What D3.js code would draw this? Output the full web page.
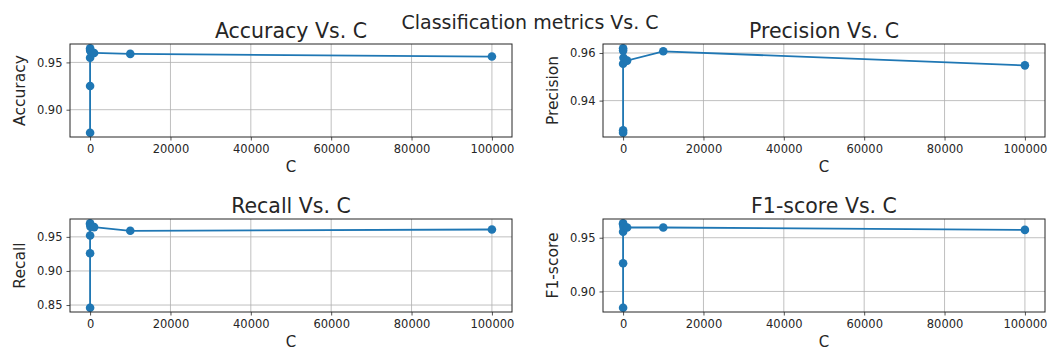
<!DOCTYPE html>
<html>
<head>
<meta charset="utf-8">
<script src="https://cdn.jsdelivr.net/npm/d3@7"></script>
<style>
  body { margin: 0; background: #fff; }
  svg { font-family: "DejaVu Sans", sans-serif; }
</style>
</head>
<body>
<svg width="1051" height="351"></svg>
<script>
const svg = d3.select("svg");

// C values tried
const cValues = [0.001, 0.01, 0.1, 1, 10, 100, 1000, 10000, 100000];

const accuracy  = [0.8756, 0.925, 0.955, 0.963, 0.965, 0.962, 0.960, 0.959, 0.9562];
const precision = [0.9265, 0.9275, 0.9555, 0.962, 0.961, 0.958, 0.9568, 0.9607, 0.9548];
const recall    = [0.846, 0.926, 0.952, 0.970, 0.968, 0.965, 0.9643, 0.9589, 0.9608];
const f1score   = [0.8848, 0.9263, 0.9555, 0.9635, 0.9625, 0.960, 0.9595, 0.9595, 0.9573];

const xTicks = [0, 20000, 40000, 60000, 80000, 100000];
const yTicksAcc = [0.90, 0.95];
const yTicksPrec = [0.94, 0.96];
const yTicksRec = [0.85, 0.90, 0.95];
const yTicksF1 = [0.90, 0.95];

const panels = [
  { name: "Accuracy", values: accuracy, ticks: yTicksAcc, col: 0, row: 0 },
  { name: "Precision", values: precision, ticks: yTicksPrec, col: 1, row: 0 },
  { name: "Recall", values: recall, ticks: yTicksRec, col: 0, row: 1 },
  { name: "F1-score", values: f1score, ticks: yTicksF1, col: 1, row: 1 }
];

const lefts = [70, 603];
const tops = [44, 219];
const w = 442, h = 93;
const blue = "#1f77b4";

// matplotlib style 5% margins
const pad = ([a, b]) => { const m = (b - a) * 0.05; return [a - m, b + m]; };

svg.append("text")
  .attr("x", 530).attr("y", 28.5)
  .attr("text-anchor", "middle")
  .attr("font-size", 19)
  .attr("fill", "#262626")
  .text("Classification metrics Vs. C");

panels.forEach(p => {
  const g = svg.append("g")
    .attr("transform", `translate(${lefts[p.col]},${tops[p.row]})`);

  const x = d3.scaleLinear().domain(pad(d3.extent(cValues))).range([0, w]);
  const y = d3.scaleLinear().domain(pad(d3.extent(p.values))).range([h, 0]);

  // grid
  g.append("g").selectAll("line").data(xTicks).join("line")
    .attr("x1", d => x(d)).attr("x2", d => x(d))
    .attr("y1", 0).attr("y2", h)
    .attr("stroke", "#b0b0b0").attr("stroke-width", 0.8);
  g.append("g").selectAll("line").data(p.ticks).join("line")
    .attr("y1", d => y(d)).attr("y2", d => y(d))
    .attr("x1", 0).attr("x2", w)
    .attr("stroke", "#b0b0b0").attr("stroke-width", 0.8);

  const xAxis = g.append("g")
    .attr("transform", `translate(0,${h})`)
    .call(d3.axisBottom(x).tickValues(xTicks).tickFormat(d3.format("d")).tickSize(3.5).tickPadding(4));
  const yAxis = g.append("g")
    .call(d3.axisLeft(y).tickValues(p.ticks).tickFormat(d3.format(".2f")).tickSize(3.5).tickPadding(4));

  [xAxis, yAxis].forEach(a => {
    a.select(".domain").remove();
    a.selectAll("text").attr("font-size", 11.5).attr("fill", "#262626")
      .attr("font-family", "DejaVu Sans");
    a.selectAll("line").attr("stroke", "#262626").attr("stroke-width", 0.8);
  });

  const pts = cValues.map((c, i) => [c, p.values[i]]);

  g.append("path")
    .datum(pts)
    .attr("fill", "none")
    .attr("stroke", blue)
    .attr("stroke-width", 1.8)
    .attr("d", d3.line().x(d => x(d[0])).y(d => y(d[1])));

  g.selectAll("circle.pt").data(pts).join("circle")
    .attr("class", "pt")
    .attr("cx", d => x(d[0])).attr("cy", d => y(d[1]))
    .attr("r", 4.3).attr("fill", blue);

  // frame
  g.append("rect")
    .attr("width", w).attr("height", h)
    .attr("fill", "none").attr("stroke", "#262626").attr("stroke-width", 1);

  g.append("text")
    .attr("x", w / 2).attr("y", -6.5)
    .attr("text-anchor", "middle")
    .attr("font-size", 20.5).attr("fill", "#262626")
    .text(`${p.name} Vs. C`);

  g.append("text")
    .attr("x", w / 2).attr("y", h + 35)
    .attr("text-anchor", "middle")
    .attr("font-size", 15).attr("fill", "#262626")
    .text("C");

  g.append("text")
    .attr("transform", `translate(-45,${h / 2}) rotate(-90)`)
    .attr("text-anchor", "middle")
    .attr("font-size", 15.5).attr("fill", "#262626")
    .text(p.name);
});
</script>
</body>
</html>
